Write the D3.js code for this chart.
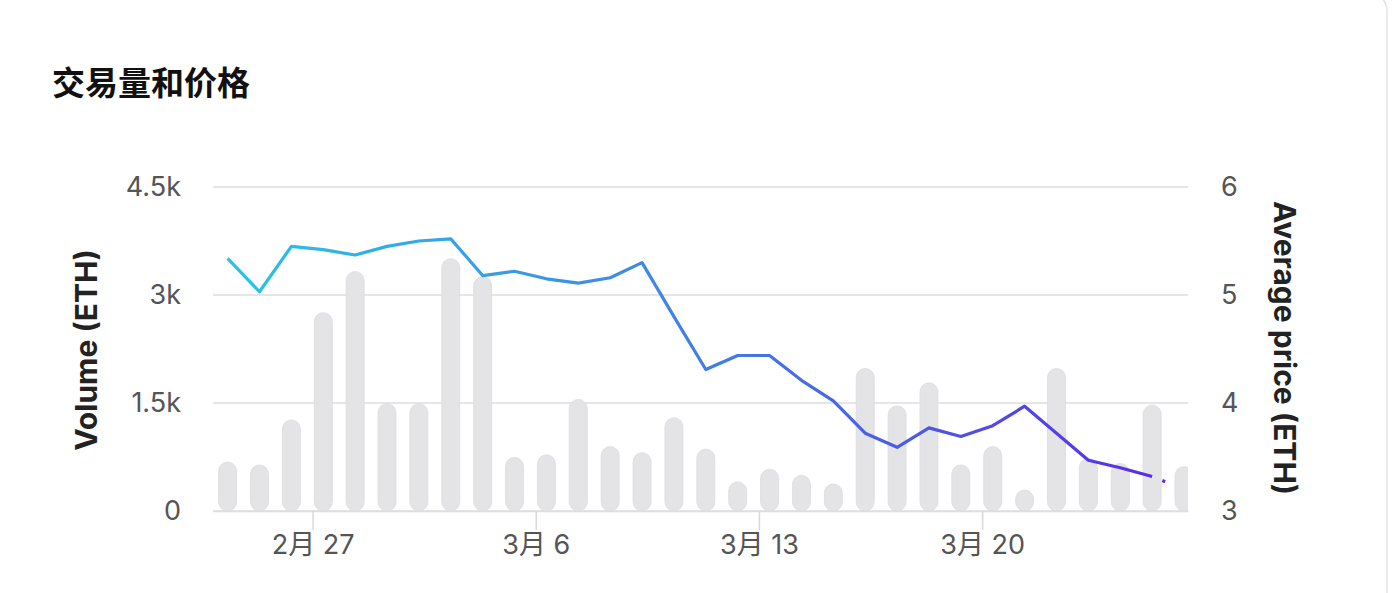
<!DOCTYPE html>
<html>
<head>
<meta charset="utf-8">
<script src="https://cdn.jsdelivr.net/npm/d3@7"></script>
<style>
  html, body { margin: 0; padding: 0; background: #fff; overflow: hidden; }
  text { font-family: Inter, Roboto, "Noto Sans CJK SC", sans-serif; }
</style>
</head>
<body>
<div id="chart"></div>

<script type="text/javascript">
  // daily data (UTC dates)
  var days = ["2023-02-24","2023-02-25","2023-02-26","2023-02-27","2023-02-28",
              "2023-03-01","2023-03-02","2023-03-03","2023-03-04","2023-03-05",
              "2023-03-06","2023-03-07","2023-03-08","2023-03-09","2023-03-10",
              "2023-03-11","2023-03-12","2023-03-13","2023-03-14","2023-03-15",
              "2023-03-16","2023-03-17","2023-03-18","2023-03-19","2023-03-20",
              "2023-03-21","2023-03-22","2023-03-23","2023-03-24","2023-03-25",
              "2023-03-26"];
  var volume = [680, 640, 1265, 2755, 3325, 1490, 1490, 3505, 3255, 745,
                780, 1550, 895, 810, 1295, 860, 405, 580, 495, 375,
                1980, 1460, 1780, 640, 895, 290, 1980, 730, 660, 1470,
                615];
  var avgPrice = [5.34, 5.03, 5.45, 5.42, 5.37, 5.45, 5.50, 5.52, 5.18, 5.22,
                  5.15, 5.11, 5.16, 5.30, 4.80, 4.31, 4.44, 4.44, 4.21, 4.02,
                  3.72, 3.59, 3.77, 3.69, 3.79, 3.97, 3.72, 3.47, 3.40, 3.32,
                  3.20];
  var volTicks = [0, 1500, 3000, 4500];
  var priceTicks = [3, 4, 5, 6];
  var dateTicks = ["2023-02-27","2023-03-06","2023-03-13","2023-03-20"];

  var W = 1400, H = 593;
  var pLeft = 213, pRight = 1188, pTop = 187, pBottom = 511;

  var svg = d3.select("#chart").append("svg")
      .attr("width", W).attr("height", H);

  // card
  svg.append("rect")
      .attr("x", -20).attr("y", -10)
      .attr("width", 1407).attr("height", 700)
      .attr("rx", 22)
      .attr("fill", "#fff")
      .attr("stroke", "#e3e3e3")
      .attr("stroke-width", 1.5);

  svg.append("text")
      .attr("x", 52).attr("y", 95)
      .style("font-family", "'Noto Sans CJK SC', sans-serif")
      .style("font-weight", 700)
      .style("font-size", "33px")
      .attr("fill", "#111")
      .text("交易量和价格");

  // bars sit 8h after local midnight
  var parse = d3.utcParse("%Y-%m-%d");
  var pos = function (s) { return d3.utcHour.offset(parse(s), 8); };
  var data = days.map(function (d, i) {
    return { t: pos(d), vol: volume[i], price: avgPrice[i] };
  });

  var x = d3.scaleUtc()
      .domain([d3.utcHour.offset(data[0].t, -11), d3.utcHour.offset(data[data.length - 1].t, 3)])
      .range([pLeft, pRight]);
  var yVol = d3.scaleLinear().domain([0, 4500]).range([pBottom, pTop]);
  var yPrice = d3.scaleLinear().domain([3, 6]).range([pBottom, pTop]);

  // grid
  svg.append("g").selectAll("line")
    .data(volTicks)
    .enter().append("line")
      .attr("x1", pLeft).attr("x2", pRight)
      .attr("y1", function (d) { return yVol(d); })
      .attr("y2", function (d) { return yVol(d); })
      .attr("stroke", "#dedede")
      .attr("stroke-width", 1.5);

  svg.append("clipPath").attr("id", "plotclip")
    .append("rect")
      .attr("x", pLeft).attr("y", 0)
      .attr("width", pRight - pLeft).attr("height", pBottom + 2);

  // bars
  var bw = 18;
  svg.append("g").attr("clip-path", "url(#plotclip)")
    .selectAll("rect")
    .data(data)
    .enter().append("rect")
      .attr("x", function (d) { return x(d.t) - bw / 2; })
      .attr("y", function (d) { return yVol(d.vol); })
      .attr("width", bw)
      .attr("height", function (d) { return pBottom - yVol(d.vol); })
      .attr("rx", bw / 2)
      .attr("fill", "#e4e4e7")
      .attr("stroke", "#dcdcdf")
      .attr("stroke-width", 0.8);

  // date axis
  var xAxis = d3.axisBottom(x)
      .tickValues(dateTicks.map(function (s) { return parse(s); }))
      .tickFormat(function (d) { return (d.getUTCMonth() + 1) + "月 " + d.getUTCDate(); })
      .tickSizeInner(19)
      .tickSizeOuter(0)
      .tickPadding(5);
  var gx = svg.append("g").attr("transform", "translate(0," + pBottom + ")").call(xAxis);
  gx.select(".domain").attr("stroke", "#dedede").attr("stroke-width", 1.5);
  gx.selectAll(".tick line").attr("stroke", "#d8d8d8").attr("stroke-width", 1.5);
  gx.selectAll(".tick text")
      .style("font-size", "27px")
      .attr("fill", "#555");

  // left axis
  var yl = svg.append("g").attr("transform", "translate(" + pLeft + ",0)")
      .call(d3.axisLeft(yVol).tickValues(volTicks).tickSize(0).tickPadding(32)
        .tickFormat(function (d) { return d === 0 ? "0" : (d / 1000) + "k"; }));
  yl.select(".domain").remove();
  yl.selectAll("text").style("font-size", "27px").attr("fill", "#555");

  // right axis
  var yr = svg.append("g").attr("transform", "translate(" + pRight + ",0)")
      .call(d3.axisRight(yPrice).tickValues(priceTicks).tickSize(0).tickPadding(33)
        .tickFormat(d3.format("d")));
  yr.select(".domain").remove();
  yr.selectAll("text").style("font-size", "27px").attr("fill", "#555");

  svg.append("text")
      .attr("transform", "translate(97,350) rotate(-90)")
      .attr("text-anchor", "middle")
      .style("font-size", "30px")
      .style("font-weight", 700)
      .attr("fill", "#222")
      .text("Volume (ETH)");

  svg.append("text")
      .attr("transform", "translate(1274,348) rotate(90)")
      .attr("text-anchor", "middle")
      .style("font-size", "30px")
      .style("font-weight", 700)
      .attr("fill", "#222")
      .text("Average price (ETH)");

  // price line with horizontal gradient
  var grad = svg.append("defs").append("linearGradient")
      .attr("id", "pricegrad")
      .attr("gradientUnits", "userSpaceOnUse")
      .attr("x1", x(data[0].t)).attr("x2", x(data[data.length - 1].t))
      .attr("y1", 0).attr("y2", 0);
  grad.append("stop").attr("offset", "0%").attr("stop-color", "#29c4e6");
  grad.append("stop").attr("offset", "45%").attr("stop-color", "#3f86e6");
  grad.append("stop").attr("offset", "100%").attr("stop-color", "#5a28ea");

  var line = d3.line()
      .x(function (d) { return x(d.t); })
      .y(function (d) { return yPrice(d.price); });

  svg.append("path")
      .datum(data.slice(0, data.length - 1))
      .attr("d", line)
      .attr("fill", "none")
      .attr("stroke", "url(#pricegrad)")
      .attr("stroke-width", 3.2)
      .attr("stroke-linejoin", "round");

  // last (incomplete) day
  svg.append("path")
      .datum(data.slice(data.length - 2))
      .attr("d", line)
      .attr("fill", "none")
      .attr("stroke", "#5a28ea")
      .attr("stroke-width", 3.2)
      .attr("stroke-dasharray", "0 11 3 100");
</script>
</body>
</html>
